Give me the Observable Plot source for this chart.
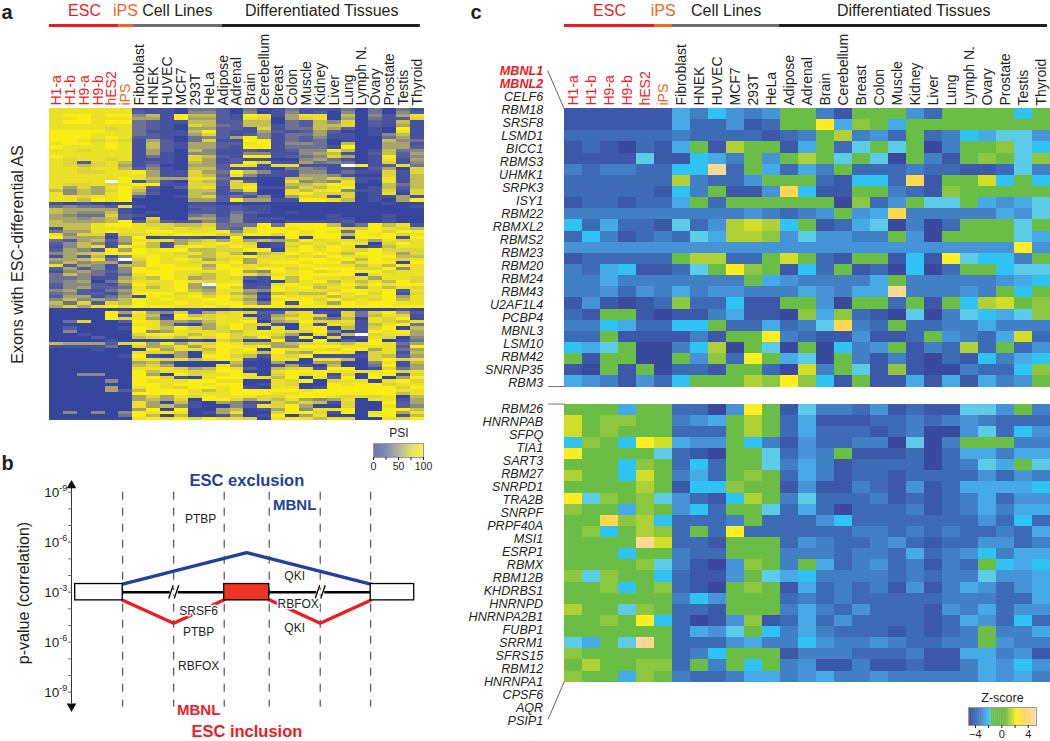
<!DOCTYPE html>
<html><head><meta charset="utf-8">
<script src="https://cdn.jsdelivr.net/npm/d3@7"></script>
<script src="https://cdn.jsdelivr.net/npm/@observablehq/plot@0.6"></script>
<style>
html,body{margin:0;padding:0;background:#fff}
#page{position:relative;width:1050px;height:741px;overflow:hidden;font-family:"Liberation Sans",Arial,sans-serif}
#page svg{position:absolute;left:0;top:0;background:transparent}
</style></head><body><div id="page"></div>
<script>
// ---- categories
const escSamples = ["H1-a","H1-b","H9-a","H9-b","hES2"];
const ipsSamples = ["iPS"];
const cellSamples = ["Fibroblast","HNEK","HUVEC","MCF7","293T","HeLa"];
const tissueSamples = ["Adipose","Adrenal","Brain","Cerebellum","Breast","Colon","Muscle","Kidney","Liver","Lung","Lymph N.","Ovary","Prostate","Testis","Thyroid"];
const redGenes = ["MBNL1","MBNL2"];
const upperGenes = ["CELF6","RBM18","SRSF8","LSMD1","BICC1","RBMS3","UHMK1","SRPK3","ISY1","RBM22","RBMXL2","RBMS2","RBM23","RBM20","RBM24","RBM43","U2AF1L4","PCBP4","MBNL3","LSM10","RBM42","SNRNP35","RBM3"];
const lowerGenes = ["RBM26","HNRNPAB","SFPQ","TIA1","SART3","RBM27","SNRPD1","TRA2B","SNRPF","PRPF40A","MSI1","ESRP1","RBMX","RBM12B","KHDRBS1","HNRNPD","HNRNPA2B1","FUBP1","SRRM1","SFRS15","RBM12","HNRNPA1","CPSF6","AQR","PSIP1"];
const groupNames = ["ESC","iPS","Cell Lines","Differentiated Tissues"];
const groupColors = ["#ed1c24","#f26522","#6d6e71","#231f20"];
const textColors = ["#ed1c24","#f26522","#231f20","#231f20"];
const groupEndsA = [5,6,12.43,26.7];
const groupEndsC = [5,6,11.94,26.83];
const groupCentersA = [2.52,5.47,9.2,19.6];
const groupCentersC = [2.5,5.48,8.98,19.4];

// ---- panel a: PSI per exon, one digit per sample (0 = 0%, 9 = 100%, - = missing)
const psiRows = [
"888888 1110332 0301311 1303031","888888 2110442 0401412 0403042","899899 4619662 1981588 0604158","889888 5519552 1870578 0503127",
"899899 3211662 2660326 4702161","888888 3210763 2661326 6702151","888878 3210552 2171336 5201091","999988 3111692 1152125 2001081",
"999888 3211572 1241335 1101461","999898 2210342 5941324 1100351","998787 1520371 1991323 0100643","899898 1621552 2891443 0600551",
"988898 1621552 1991333 1900552","887888 1520641 1211244 9601634","888888 1510441 1441145 6102625","988888 1310762 1991234 7501924",
"878878 1110751 2110045 3101815","872786 1210651 2971153 4301714","876785 1300552 8818811 1-91283","887886 2410662 1110343 1102507",
"887788 9511753 9641144 1311717","888888 8511762 8411155 4100716","888889 8655883 1100665 7611816","8888-9 1510762 7200845 4810816",
"877878 9911772 7800667 9800636","857589 7202781 7911576 8901626","646579 6100661 4800868 9411717","846589 5200651 1300897 7701807",
"887889 2001672 3140577 1701151","886989 0000552 9551199 8601059","101000 0000110 0000000 0000100","343328 1000221 2110000 0000001",
"655551 0000121 2110000 0000000","654461 0100221 3210100 0000000","543372 1000341 4100000 1000100","554562 0700552 4111000 1100100",
"655569 2621242 4110111 1200100","666899 8776673 3393999 6139681","166888 8878783 2799899 9779876","355898 8998889 4799989 8399799",
"847717 7889997 6997989 9698978","955505 9011101 9000909 9099919","325625 8885675 8565697 8875878","246414 9615789 8701878 7980798",
"146819 8618987 9801797 9801688","254295 9899667 7990898 9879777","456799 9887868 6167989 8699857","152614 8988668 8978787 9889966",
"55683- 7989857 8588899 8969878","464551 6988788 9589989 9689909","825416 6998859 8878898 8868698","252414 9899969 9899789 9977948",
"145324 9998888 9549897 8999788","364313 8998768 9868899 9908888","334115 7698568 7219698 8785887","345036 8889878 8010689 6868697",
"244214 97895-9 9118987 7979899","245223 8689549 7129896 8858687","452135 8889658 8549888 7998928","342214 9997868 6406766 9897917",
"255135 1988979 8619888 6878958","464546 9898899 7508997 9787968","637276 9889889 9639198 5989988","575898 9998898 9999899 9999999",
"000000 0000100 1000000 0000010","000095 9547157 8722781 1737952","000091 8609678 8015687 0736871","000097 8519878 8716884 3608791",
"037002 9855468 8905697 7818768","000000 8851058 9771081 8716893","020001 9869757 9708089 0617906","040000 9458887 6898779 4019895",
"001000 7998689 7887508 16-7885","000200 6786879 7696190 7018704","000010 0000107 6009109 0209013","655527 9595879 8665678 7689835",
"111130 7568589 9895599 9888829","000100 0958869 8909888 7995835","000000 8775079 8869659 9807816","000001 9105099 7618791 1117625",
"000000 8878689 8108808 8607978","000000 5630000 6005005 5004816","000000 6750008 5001510 6003915","000000 8887569 8206781 9901735",
"000000 9688779 9008999 8888978","004400 9509788 9807989 1709917","000000 9971089 9886908 2909059","000040 9888998 8008790 7880897",
"000000 9989989 9018700 9899788","000050 8987998 9108801 9999979","000052 6999868 9999989 9999988","000000 9999888 9998899 9999968",
"000000 5758798 8877999 8777806","000000 5657099 7576854 5808815","000000 8506105 4117676 1700925","000000 8564100 4287950 0700824",
"000000 5909005 6015948 8900996","040404 9898015 8007997 1908958","000003 9606001 5019058 0009916","000000 8989798 8708986 8700879"
];
// ---- panel c: Z-score per gene, one letter per sample (see zCodes)
const zCodes = "abcdefghklmnopq";
const zValues = [-5,-4.4,-3.8,-3.2,-2.7,-2.3,-1.9,-1.65,0,1,1.4,1.8,2.2,3.2,4.6];
const upperRows = [
"bbbbbb fdgede kkdbkkkeckkkkgk","bbbbbb fccebc kkoflkfkkkkkkkk","cccccc dccccb cdkmdeckcdgfhhe","bcbacb fkbmkk bfkchkhkadkklhg","bbbbhb bgfdke kmkhkhakdbklkhl",
"dcddcc ggqckf cfdkcccdccbbchd","cccccc mdccek kkcbggcpbkkngkg","cccccb gdkbbe pgbbkkdcblkkkkk","bccbcc fkckkk kkkalcekhhkfefh","dddddd dddded cdekefpdddddfeh",
"gcfccb hcemnm gkbcfhadackkkhk","cgdbcd chfmml eheeddkeakkkkhf","eeeeee eeeeee eeeeeeeeeeeeeoe","bccccc kmmcck nkcbkkbgbohggdk","dcfgbb chkolk bgckbcagackkghh",
"ddfddd ddddkf eddddfkdddddefg","ddeced fdeedd dfedffqdddedkgk","bebabc lccgbb kkeakkckbkgmnkl","cbkkba bbdfbb alflcbahadhgfhl","ddgfcc ggkccf cdhpdckccddfddd",
"cckbbb bdbkko dcbbebbckedcfnc","gfhkaa dgmakh akagdekbdcmckce","kbkkaa kelcok fhakdbdbacbgdfg","bakbka ccbkkc andkhblbaadccgl","fedbec gkkkml olgbkbbfbfbfdek"
];
const lowerRows = [
"kkkfkk ccaeok bhddcebcbbhhekd","nkllkk defkmk cfbbbccdcdedccc","nklkkk ccckmk cfcccbcdaaehcge","glkgon feekgd beccddahadkkkdd","okkkkh cbakkh cedkbbbcacffdff",
"kkkglk cgckkh dfdbccccacdhfkh","mkkgnk dfcklk cfdbccbcccceced","kkkkmk bgglkk bebbdcbebcffffg","ohlklh ecbgmk dhcccdbcbcdfcee","lkkflk egckkh cfcacccdbcdfdff",
"kkplmg cccdkc ccegcccccccecgc","klgkml ckcocc ccccddcdcdccdcf","kkkkqn ccbkkk cedccdecbcceecd","kkkgkk dcckkk dddcddcfcdegdff","kkkklh dbaelk dkfcdecdbdckgfg",
"lhlkkg cbbekh fgddddcdcddheef","kklgkl cbaklk bfcdcdbebdfecef","kkkkkk dgekkk cdcdcccccdddccf","mkkhlk ccbkkk dfdcecccbedfcee","kklkog cabelb cfceccccbcfecgc",
"kkkkkk cfehkg dfdcccbcbcdkddf","hfkhqk cccefd dgeddedccddkedd","lkkkkk cdgkkk bdddcccdbbffdeb","kmkkll ckdkgk debbdbbcbbdfege","lkkflk dccdff defddedddddfefd"
];
// ---- colour ramps
const psiStops = [0,25,50,75,100];
const psiColors = ["#36459e","#5a5fa0","#97967a","#d9d23e","#faee14"];
const zStops = [-5,-4.4,-3.8,-3.2,-2.7,-2.3,-1.9,-1.65,-1.55,0.6,1,1.4,1.8,2.2,3.2,4.6,5.2];
const zColors = ["#38499e","#3b59a8","#3e6bb5","#4280c5","#4694d7","#45aae6","#2fc3f4","#5ccbe8","#6abd45","#6abd45","#8dc63f","#b0d136","#d2dd27","#fcee21","#ffd84f","#fdd894","#fdd9a0"];
// ---- panel b: schematic, y = signed decades from the 10^-3 line, x = schematic position
const exons = [{x1:0,x2:47.5,fill:"#fff"},{x1:149,x2:194,fill:"#ee3524"},{x1:295.5,x2:339,fill:"#fff"}];
const dashX = [47.5,98.5,149,194,245,295.5];
const blueX = [47.5,171.5,295.5];
const blueY = [0.48,2.38,0.48];
const redLeftX = [47.5,98.5,149];
const redRightX = [194,245,295.5];
const redY = [-0.48,-1.86,-0.45];
const intronSpans = [[47.5,149],[194,295.5]];
const breakX = [98.5,245];
const minorTicks = [-6,-5,-4,-3,-2,-1,0,1,2,3,4,5,6];
const decadeLabels = [{v:6,e:"-9"},{v:3,e:"-6"},{v:0,e:"-3"},{v:-3,e:"-6"},{v:-6,e:"-9"}];
const plainLabels = [{t:"PTBP",x:125.5,v:4.4},{t:"QKI",x:219.5,v:0.95},{t:"SRSF6",x:123.5,v:-1.14},{t:"RBFOX",x:223,v:-0.74},{t:"PTBP",x:123.5,v:-2.37},{t:"QKI",x:219.5,v:-2.13},{t:"RBFOX",x:123.5,v:-4.46}];

const samples = [...escSamples,...ipsSamples,...cellSamples,...tissueSamples];
const frame = (x0,x1,y0,y1)=>({width:1050,height:741,marginLeft:x0,marginRight:1050-x1,marginTop:y0,marginBottom:741-y1});
const FONT = '"Liberation Sans",Arial,sans-serif';
const page = document.getElementById("page");
const add = p => page.appendChild(p);
const cells = (rows,decode)=>rows.flatMap((r,i)=>[...r.replace(/ /g,"")].map((c,j)=>({sample:samples[j],row:i,v:decode(c)}))).filter(d=>d.v!=null);
const sampleAxes = ()=>[[escSamples,"#ed1c24"],[ipsSamples,"#f26522"],[[...cellSamples,...tissueSamples],"#231f20"]]
  .map(([t,c])=>Plot.axisX(t,{anchor:"top",tickRotate:-90,tickSize:0,tickPadding:3,fontSize:14,color:c,label:null}));
const psiColor = {type:"linear",domain:psiStops,range:psiColors,interpolate:"rgb"};
const zColor = {type:"linear",domain:zStops,range:zColors,interpolate:"rgb"};
const psiDecode = c => c==="-"?null:(+c)*100/9;
const zDecode = c => zValues[zCodes.indexOf(c)];

function heat(rows,decode,color,x0,x1,y0,y1,labels){
  return Plot.plot({...frame(x0,x1,y0,y1),style:{fontFamily:FONT,background:"transparent"},
    x:{domain:samples,padding:0,round:false,axis:null,label:null},
    y:{domain:d3.range(rows.length),padding:0,round:false,axis:null,label:null},
    color,
    marks:[
      Plot.cell(cells(rows,decode),{x:"sample",y:"row",fill:"v",shapeRendering:"crispEdges"}),
      ...(labels?sampleAxes():[])
    ]});
}
add(heat(psiRows,psiDecode,psiColor,49,424,108,420,true));
add(heat(upperRows,zDecode,zColor,564,1050,108,386.5,true));
add(heat(lowerRows,zDecode,zColor,564,1050,403.5,681.7,false));

// header bars over each heatmap
function header(ends,centers,x0,x1){
  const segs = ends.map((e,i)=>({a:i?ends[i-1]:0,b:e,color:groupColors[i],text:textColors[i],name:groupNames[i],c:centers[i]}));
  return Plot.plot({...frame(x0,x1,0,741),style:{fontFamily:FONT,background:"transparent"},
    x:{domain:[0,27],axis:null},y:{domain:[741,0],axis:null},
    marks:[
      ...segs.map(s=>Plot.ruleY([25],{x1:s.a,x2:s.b,stroke:s.color,strokeWidth:3})),
      ...segs.map(s=>Plot.text([s.name],{x:s.c,y:10,text:d=>d,fill:s.text,fontSize:16}))
    ]});
}
add(header(groupEndsA,groupCentersA,49,424));
add(header(groupEndsC,groupCentersC,564,1050));

// gene labels, spaced evenly by slot; leaders tie them to the blocks
const slot = g => { const u=[...redGenes,...upperGenes].indexOf(g); return u>=0?u:26+lowerGenes.indexOf(g); };
add(Plot.plot({...frame(0,1050,70.5,720.5),style:{fontFamily:FONT,background:"transparent"},
  x:{domain:[0,1050],axis:null},y:{domain:[50,0],axis:null},
  marks:[
    Plot.text(redGenes,{x:542.7,y:slot,text:d=>d,textAnchor:"end",fontSize:12.6,fontStyle:"italic",fontWeight:"bold",fill:"#ed1c24"}),
    Plot.text([...upperGenes,...lowerGenes],{x:542.7,y:slot,text:d=>d,textAnchor:"end",fontSize:12.6,fontStyle:"italic",fill:"#231f20"}),
    Plot.line([[547.3,0],[563.5,2.88]],{x:"0",y:"1",stroke:"#555",strokeWidth:0.9}),
    Plot.line([[548,24.27],[564,24.27]],{x:"0",y:"1",stroke:"#777",strokeWidth:1}),
    Plot.line([[548,25.62],[564,25.62]],{x:"0",y:"1",stroke:"#777",strokeWidth:1}),
    Plot.line([[563.6,47],[547.7,49.85]],{x:"0",y:"1",stroke:"#555",strokeWidth:0.9})
  ]}));

// page furniture
add(Plot.plot({...frame(0,1050,0,741),style:{fontFamily:FONT,background:"transparent"},
  x:{domain:[0,1050],axis:null},y:{domain:[741,0],axis:null},
  marks:[
    Plot.text(["a"],{x:1,y:12,text:d=>d,textAnchor:"start",fontSize:20,fontWeight:"bold",fill:"#231f20"}),
    Plot.text(["b"],{x:1,y:463,text:d=>d,textAnchor:"start",fontSize:20,fontWeight:"bold",fill:"#231f20"}),
    Plot.text(["c"],{x:470,y:12,text:d=>d,textAnchor:"start",fontSize:20,fontWeight:"bold",fill:"#231f20"}),
    Plot.text(["Exons with ESC-differential AS"],{x:17.5,y:254,text:d=>d,rotate:-90,fontSize:16,fill:"#231f20"}),
    Plot.text(["p-value (correlation)"],{x:23,y:592.5,text:d=>d,rotate:-90,fontSize:16,fill:"#231f20"}),
    Plot.text(["PSI"],{x:398.5,y:433,text:d=>d,fontSize:12,fill:"#231f20"}),
    Plot.text(["Z-score"],{x:1002,y:697,text:d=>d,fontSize:12.5,fill:"#231f20"})
  ]}));

// panel b
add(Plot.plot({...frame(71,413,491.7,691.7),style:{fontFamily:FONT,background:"transparent"},
  x:{domain:[-3.7,338.3],axis:null},y:{domain:[-6,6],axis:null},
  marks:[
    Plot.ruleX(dashX,{y1:6,y2:-6.9,stroke:"#333",strokeWidth:1,strokeDasharray:"8 8"}),
    Plot.ruleX([-3.7],{y1:6.25,y2:-6.7,stroke:"#333",strokeWidth:1}),
    Plot.link(minorTicks,{x1:-7,x2:-3.7,y1:d=>d,y2:d=>d,stroke:"#666",strokeWidth:1}),
    Plot.dot([6.4],{x:-3.7,y:d=>d,symbol:"triangle",r:2.6,fill:"#111",stroke:"#111"}),
    Plot.dot([-6.85],{x:-3.7,y:d=>d,symbol:"triangle",r:2.6,fill:"#111",stroke:"#111",rotate:180}),
    Plot.text(decadeLabels,{x:-16,y:"v",text:()=>"10",textAnchor:"end",fontSize:13.5,fill:"#231f20"}),
    Plot.text(decadeLabels,{x:-16,y:"v",dy:-4,text:"e",textAnchor:"start",fontSize:9,fill:"#231f20"}),
    ...intronSpans.map(([a,b])=>Plot.ruleY([0],{x1:a,x2:b,stroke:"#000",strokeWidth:2.6})),
    Plot.link(breakX,{x1:d=>d-4,x2:d=>d+4,y1:0,y2:0,stroke:"#fff",strokeWidth:4}),
    Plot.link(breakX,{x1:d=>d-5,x2:d=>d-0.5,y1:-0.38,y2:0.42,stroke:"#000",strokeWidth:1.3}),
    Plot.link(breakX,{x1:d=>d+0.5,x2:d=>d+5,y1:-0.38,y2:0.42,stroke:"#000",strokeWidth:1.3}),
    Plot.line(blueX.map((x,i)=>({x,y:blueY[i]})),{x:"x",y:"y",stroke:"#23409a",strokeWidth:3.4,strokeLinejoin:"miter"}),
    Plot.line(redLeftX.map((x,i)=>({x,y:redY[i]})),{x:"x",y:"y",stroke:"#ed1c24",strokeWidth:3.4,strokeLinejoin:"miter"}),
    Plot.line(redRightX.map((x,i)=>({x,y:redY[2-i]})),{x:"x",y:"y",stroke:"#ed1c24",strokeWidth:3.4,strokeLinejoin:"miter"}),
    Plot.rect(exons,{x1:"x1",x2:"x2",y1:0.49,y2:-0.49,fill:"fill",stroke:"#000",strokeWidth:1.3}),
    Plot.text(plainLabels,{x:"x",y:"v",text:"t",fontSize:12,fill:"#231f20",stroke:"#fff",strokeWidth:3,paintOrder:"stroke"}),
    Plot.text(["ESC exclusion"],{x:171.7,y:6.68,text:d=>d,fontSize:16.5,fontWeight:"bold",fill:"#23409a"}),
    Plot.text(["MBNL"],{x:219.5,y:5.2,text:d=>d,fontSize:15,fontWeight:"bold",fill:"#23409a"}),
    Plot.text(["MBNL"],{x:123.5,y:-7.05,text:d=>d,fontSize:15,fontWeight:"bold",fill:"#ed1c24"}),
    Plot.text(["ESC inclusion"],{x:171.7,y:-8.35,text:d=>d,fontSize:16.5,fontWeight:"bold",fill:"#ed1c24"})
  ]}));

// legends
const psiRamp = d3.range(0,100,1);
add(Plot.plot({...frame(373,423,443,457),style:{fontFamily:FONT,background:"transparent"},
  x:{domain:[0,100],axis:null,label:null},y:{axis:null,domain:[0,1]},color:psiColor,
  marks:[
    Plot.rect(psiRamp,{x1:d=>d,x2:d=>d+1,y1:0,y2:1,fill:d=>d+0.5}),
    Plot.frame({stroke:"#999"}),
    Plot.axisX({anchor:"bottom",ticks:psiStops,tickSize:3,tickPadding:2,fontSize:10.5,label:null,color:"#231f20",tickFormat:d=>d%50===0?d:""})
  ]}));
const zRamp = d3.range(-5,5.2,0.1);
add(Plot.plot({...frame(968,1036,707,725),style:{fontFamily:FONT,background:"transparent"},
  x:{domain:[-5.05,5.25],axis:null,label:null},y:{axis:null,domain:[0,1]},color:zColor,
  marks:[
    Plot.rect(zRamp,{x1:d=>d-0.05,x2:d=>d+0.1,y1:0,y2:1,fill:d=>d}),
    Plot.frame({stroke:"#999"}),
    Plot.axisX({anchor:"bottom",ticks:[-4,-2,0,2,4],tickSize:3,tickPadding:2,fontSize:11,label:null,color:"#231f20",tickFormat:d=>d%4===0?(d<0?"\u2212"+(-d):d):""})
  ]}));
</script></body></html>
